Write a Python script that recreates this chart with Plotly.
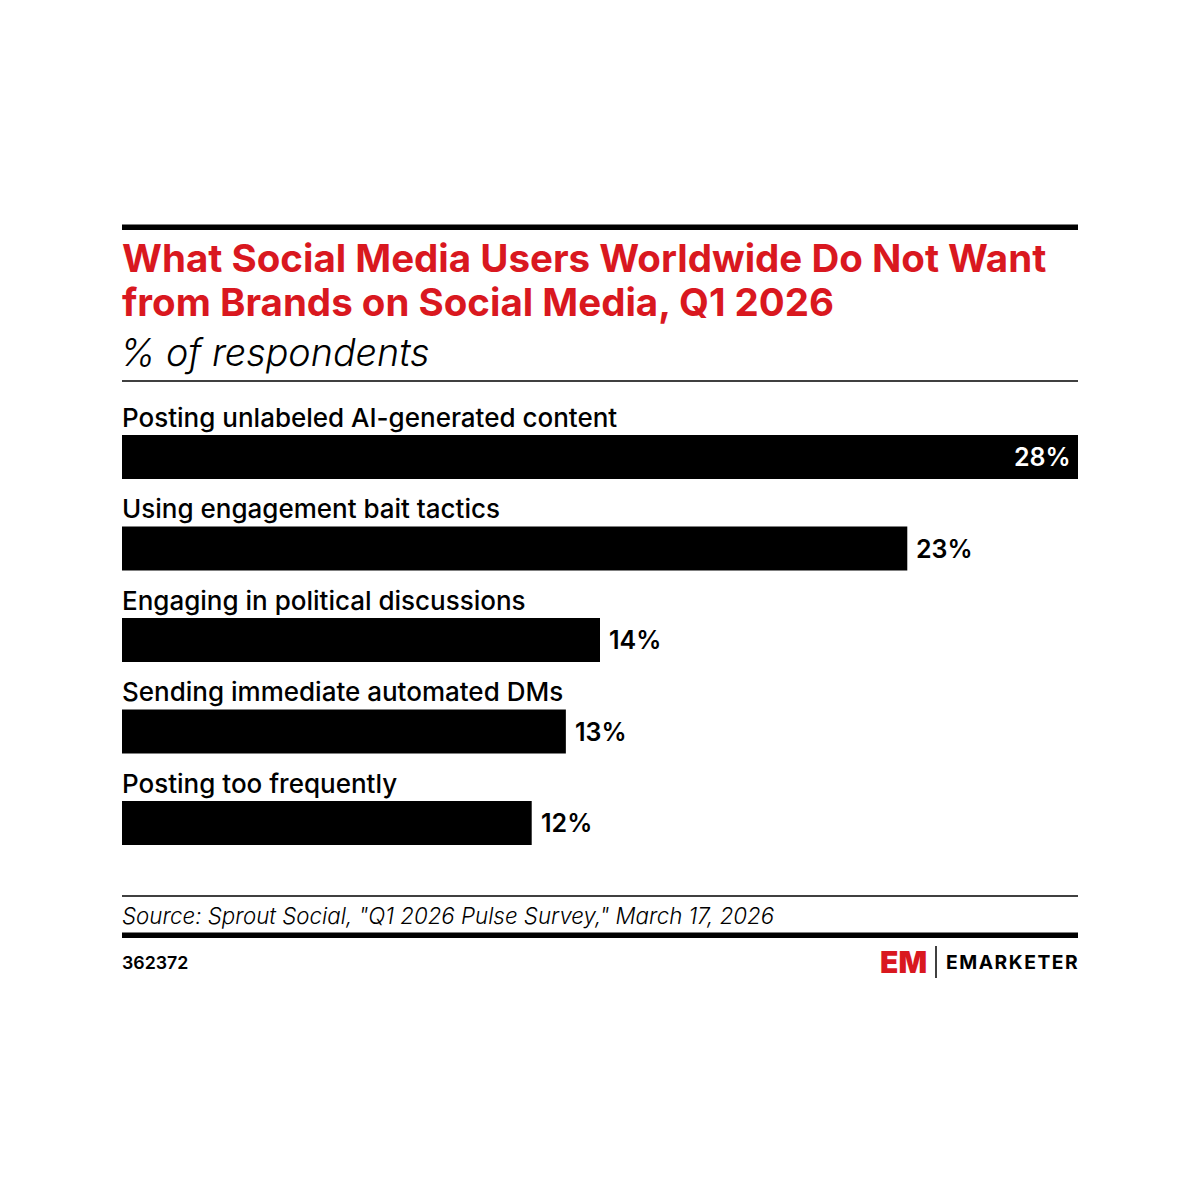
import plotly.graph_objects as go

categories = [
    "Posting unlabeled AI-generated content",
    "Using engagement bait tactics",
    "Engaging in political discussions",
    "Sending immediate automated DMs",
    "Posting too frequently",
]
values = [28, 23, 14, 13, 12]
value_labels = ["28%", "23%", "14%", "13%", "12%"]

title_lines = ["What Social Media Users Worldwide Do Not Want",
               "from Brands on Social Media, Q1 2026"]
subtitle = "% of respondents"
source = 'Source: Sprout Social, "Q1 2026 Pulse Survey," March 17, 2026'
chart_id = "362372"

W = H = 1200
def py(px):
    return 1 - px / H
def pxx(px):
    return px / W

FONT = "Inter"
RED = "#d9181f"
LS = -2  # left shift to cancel annotation padding

fig = go.Figure()
n = len(categories)
fig.add_trace(go.Bar(
    x=values, y=list(range(n)), orientation="h",
    marker=dict(color="#000000", line=dict(width=0)),
    width=0.48, hoverinfo="skip",
))

x0, x1 = 122, 1078
bar_top, bar_bot = 411.25, 868.75
fig.update_layout(
    width=W, height=H,
    margin=dict(l=0, r=0, t=0, b=0),
    paper_bgcolor="white", plot_bgcolor="white",
    showlegend=False,
    xaxis=dict(domain=[pxx(x0), pxx(x1)], range=[0, max(values)], visible=False, fixedrange=True),
    yaxis=dict(domain=[py(bar_bot), py(bar_top)], range=[n - 0.5, -0.5], visible=False, fixedrange=True),
)

ann = []
for i, (c, v, lab) in enumerate(zip(categories, values, value_labels)):
    ann.append(dict(x=pxx(x0), xref="paper", y=i - 0.437, yref="y", text=c,
                    xanchor="left", yanchor="middle", showarrow=False, xshift=LS,
                    font=dict(family=FONT, size=26, color="#000", weight=500)))
    if v == max(values):
        ann.append(dict(x=v, xref="x", y=i, yref="y", text=lab, xanchor="right", xshift=-5,
                        yanchor="middle", showarrow=False,
                        font=dict(family=FONT, size=25, color="#fff", weight=600)))
    else:
        ann.append(dict(x=v, xref="x", y=i, yref="y", text=lab, xanchor="left", xshift=7,
                        yanchor="middle", showarrow=False,
                        font=dict(family=FONT, size=25, color="#000", weight=600)))

ann.append(dict(x=pxx(x0), xref="paper", y=py(258), yref="paper", text=title_lines[0],
                xanchor="left", yanchor="middle", showarrow=False, xshift=LS,
                font=dict(family=FONT, size=38.5, color=RED, weight=700)))
ann.append(dict(x=pxx(x0), xref="paper", y=py(302), yref="paper", text=title_lines[1],
                xanchor="left", yanchor="middle", showarrow=False, xshift=LS,
                font=dict(family=FONT, size=38.5, color=RED, weight=700)))
ann.append(dict(x=pxx(x0), xref="paper", y=py(352), yref="paper", text=subtitle,
                xanchor="left", yanchor="middle", showarrow=False, xshift=LS - 2,
                font=dict(family=FONT, size=37.7, color="#000", style="italic", weight=300)))
ann.append(dict(x=pxx(x0), xref="paper", y=py(915), yref="paper", text=source,
                xanchor="left", yanchor="middle", showarrow=False, xshift=LS,
                font=dict(family=FONT, size=22.3, color="#000", style="italic", weight=300)))
ann.append(dict(x=pxx(x0), xref="paper", y=py(962), yref="paper", text=chart_id,
                xanchor="left", yanchor="middle", showarrow=False, xshift=LS,
                font=dict(family=FONT, size=17.8, color="#000", weight=600)))
ann.append(dict(x=pxx(929), xref="paper", y=py(962), yref="paper", text="EM",
                xanchor="right", yanchor="middle", showarrow=False,
                font=dict(family=FONT, size=30, color=RED, weight=900)))
ann.append(dict(x=pxx(1080), xref="paper", y=py(962), yref="paper",
                text="\u200a".join("EMARKETER"),
                xanchor="right", yanchor="middle", showarrow=False,
                font=dict(family=FONT, size=19.3, color="#000", weight=700)))
fig.update_layout(annotations=ann)

shapes = [
    dict(type="rect", xref="paper", yref="paper", x0=pxx(x0), x1=pxx(x1), y0=py(230), y1=py(224.5),
         fillcolor="#000", line=dict(width=0)),
    dict(type="line", xref="paper", yref="paper", x0=pxx(x0), x1=pxx(x1), y0=py(381), y1=py(381),
         line=dict(color="#000", width=1.5)),
    dict(type="line", xref="paper", yref="paper", x0=pxx(x0), x1=pxx(x1), y0=py(896), y1=py(896),
         line=dict(color="#000", width=1.5)),
    dict(type="rect", xref="paper", yref="paper", x0=pxx(x0), x1=pxx(x1), y0=py(938), y1=py(932.5),
         fillcolor="#000", line=dict(width=0)),
    dict(type="line", xref="paper", yref="paper", x0=pxx(936), x1=pxx(936), y0=py(946), y1=py(978),
         line=dict(color="#000", width=1.5)),
]
fig.update_layout(shapes=shapes)

fig.write_html("out.html")
